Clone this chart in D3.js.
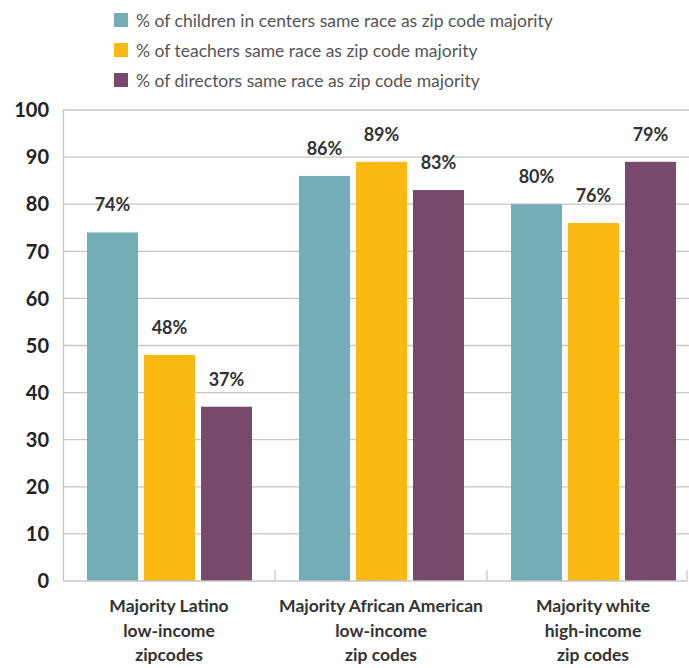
<!DOCTYPE html>
<html>
<head>
<meta charset="utf-8">
<script src="https://cdn.jsdelivr.net/npm/d3@7"></script>
<style>
  body { margin: 0; background: #fff; }
  svg { display: block; }
  .legend text { font-family: Lato, sans-serif; font-size: 17.5px; fill: #555; }
  .ytick text { font-family: Lato, sans-serif; font-weight: bold; font-size: 20px; fill: #222; }
  .val { font-family: Lato, sans-serif; font-weight: bold; font-size: 18px; fill: #333; }
  .cat { font-family: Lato, sans-serif; font-weight: bold; font-size: 17.5px; fill: #333; }
</style>
</head>
<body>
<div id="chart"></div>
<script>
// data
var categories = [
  ["Majority Latino", "low-income", "zipcodes"],
  ["Majority African American", "low-income", "zip codes"],
  ["Majority white", "high-income", "zip codes"]
];
var seriesNames = [
  "% of children in centers same race as zip code majority",
  "% of teachers same race as zip code majority",
  "% of directors same race as zip code majority"
];
var children = [74, 86, 80];
var teachers = [48, 89, 76];
var directors = [37, 83, 89];
// printed labels (the last one reads 79% although the bar reaches 89)
var childrenLabels = ["74%", "86%", "80%"];
var teachersLabels = ["48%", "89%", "76%"];
var directorsLabels = ["37%", "83%", "79%"];
var yTicks = [0, 10, 20, 30, 40, 50, 60, 70, 80, 90, 100];

var colors = ["#73adb6", "#fbb914", "#79496b"];

var width = 689, height = 668;
var svg = d3.select("#chart").append("svg")
  .attr("width", width).attr("height", height);

var series = [children, teachers, directors];
var seriesLabels = [childrenLabels, teachersLabels, directorsLabels];

var x0 = d3.scaleBand().domain(d3.range(categories.length)).range([63, 699]);
var x1 = d3.scaleBand().domain(d3.range(series.length)).range([24, 189]).paddingInner(0.105);
var y = d3.scaleLinear().domain([0, 100]).range([581, 110]);

// gridlines
svg.append("g").selectAll("line")
  .data(yTicks.filter(function(d) { return d > 0; }))
  .enter().append("line")
  .attr("x1", 63).attr("x2", width)
  .attr("y1", function(d) { return y(d); })
  .attr("y2", function(d) { return y(d); })
  .attr("stroke", "#c6c6c6").attr("stroke-width", 1.3);

// left axis line
svg.append("line")
  .attr("x1", 63.5).attr("x2", 63.5).attr("y1", y(100)).attr("y2", y(0))
  .attr("stroke", "#c6c6c6").attr("stroke-width", 1.3);

// y tick labels
var yt = svg.append("g").attr("class", "ytick");
yt.selectAll("text").data(yTicks).enter().append("text")
  .attr("x", 49).attr("y", function(d) { return y(d); })
  .attr("dy", "0.36em")
  .attr("text-anchor", "end")
  .text(function(d) { return d; });

// bars
var groups = svg.append("g").selectAll("g")
  .data(categories)
  .enter().append("g")
  .attr("transform", function(d, i) { return "translate(" + x0(i) + ",0)"; });

function rows(d, i) {
  return series.map(function(s, j) { return { s: j, v: s[i], label: seriesLabels[j][i] }; });
}

groups.selectAll("rect")
  .data(rows)
  .enter().append("rect")
  .attr("x", function(d) { return x1(d.s); })
  .attr("width", x1.bandwidth())
  .attr("y", function(d) { return y(d.v); })
  .attr("height", function(d) { return y(0) - y(d.v); })
  .attr("fill", function(d) { return colors[d.s]; });

groups.selectAll("text.val")
  .data(rows)
  .enter().append("text")
  .attr("class", "val")
  .attr("x", function(d) { return x1(d.s) + x1.bandwidth() / 2; })
  .attr("y", function(d) { return y(d.v) - 21; })
  .attr("text-anchor", "middle")
  .text(function(d) { return d.label; });

// bottom axis with group separators
svg.append("line")
  .attr("x1", 63).attr("x2", 687).attr("y1", 581).attr("y2", 581)
  .attr("stroke", "#c6c6c6").attr("stroke-width", 1.5);
svg.append("g").selectAll("line")
  .data(d3.range(1, categories.length))
  .enter().append("line")
  .attr("x1", function(d) { return x0(d); })
  .attr("x2", function(d) { return x0(d); })
  .attr("y1", 570).attr("y2", 581)
  .attr("stroke", "#c6c6c6").attr("stroke-width", 1.3);
svg.append("line")
  .attr("x1", 687).attr("x2", 687).attr("y1", 570).attr("y2", 581)
  .attr("stroke", "#c6c6c6").attr("stroke-width", 1.3);

// category labels
var cat = svg.append("g").selectAll("text")
  .data(categories)
  .enter().append("text")
  .attr("class", "cat")
  .attr("text-anchor", "middle")
  .attr("x", function(d, i) { return x0(i) + x0.bandwidth() / 2; })
  .attr("y", 612);
cat.selectAll("tspan")
  .data(function(d) { return d; })
  .enter().append("tspan")
  .attr("x", function() { return d3.select(this.parentNode).attr("x"); })
  .attr("dy", function(d, i) { return i === 0 ? 0 : 24.5; })
  .text(function(d) { return d; });

// legend
var legend = svg.append("g").attr("class", "legend")
  .selectAll("g").data(seriesNames).enter().append("g")
  .attr("transform", function(d, i) { return "translate(114," + (13 + i * 30) + ")"; });
legend.append("rect")
  .attr("width", 14).attr("height", 14)
  .attr("fill", function(d, i) { return colors[i]; });
legend.append("text")
  .attr("x", 22).attr("y", 14)
  .text(function(d) { return d; });
</script>
</body>
</html>
